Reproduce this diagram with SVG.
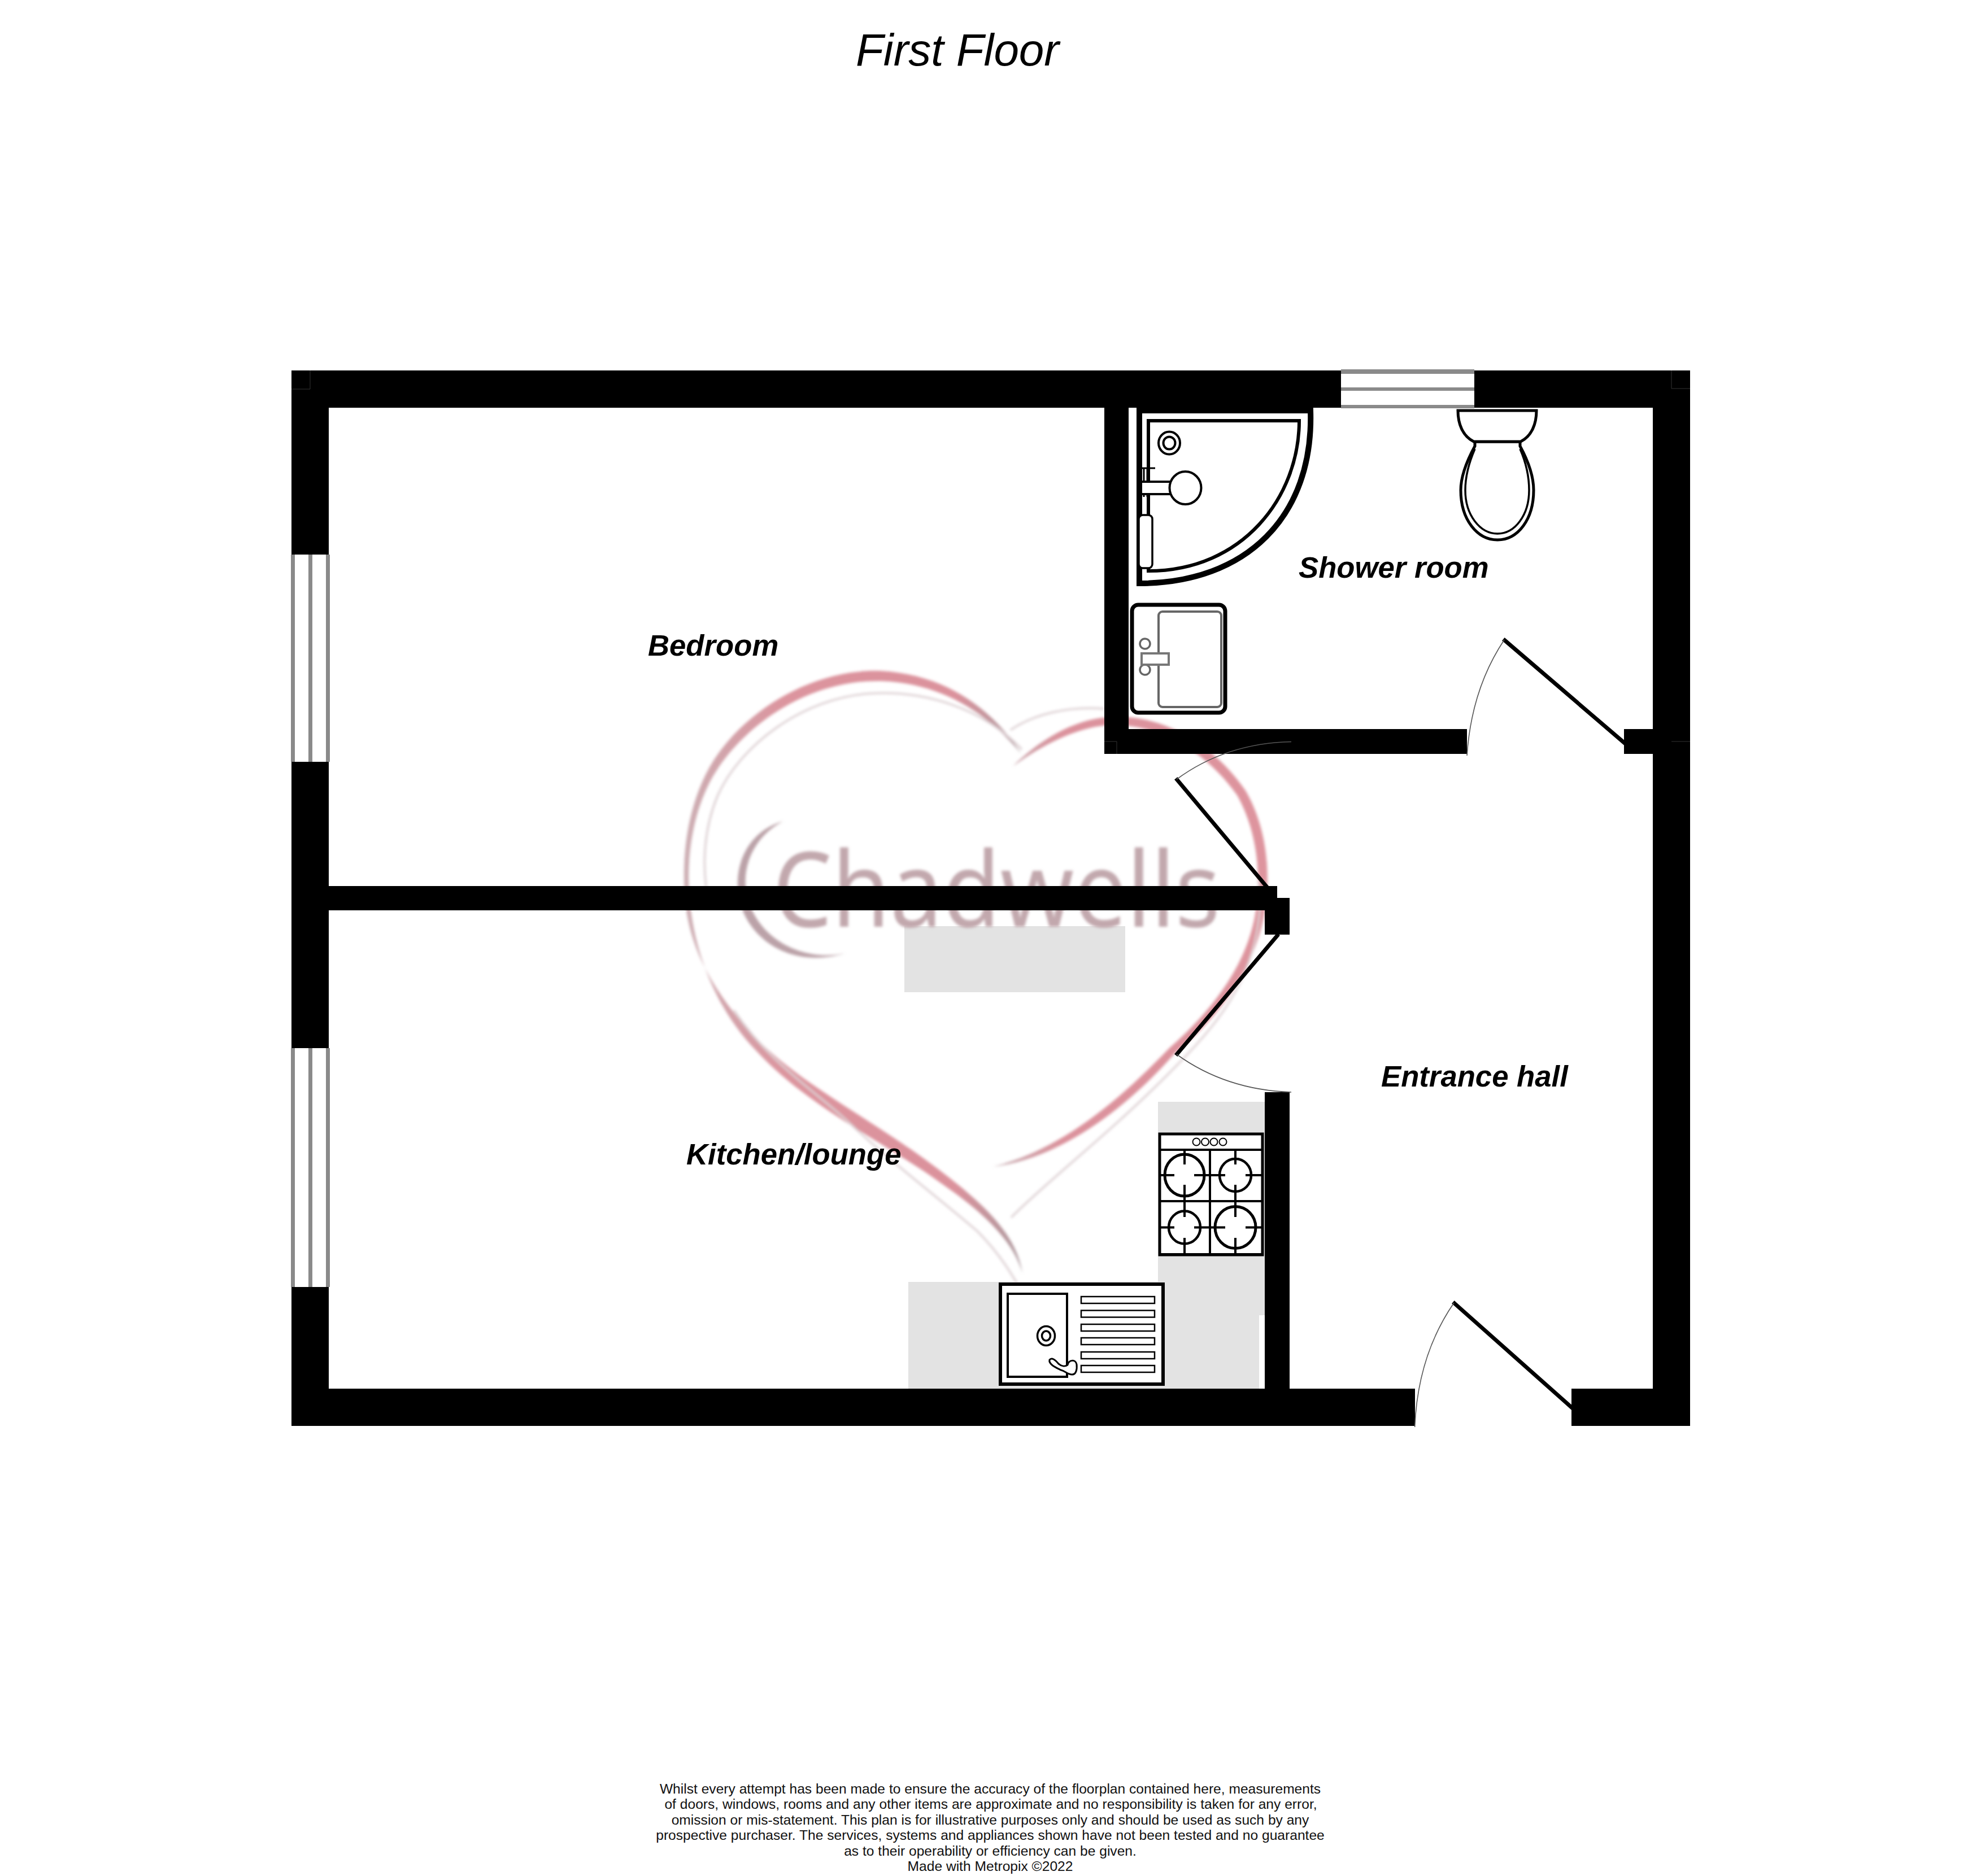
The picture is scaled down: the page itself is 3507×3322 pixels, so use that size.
<svg xmlns="http://www.w3.org/2000/svg" width="3507" height="3322" viewBox="0 0 3507 3322">
<style>
.wall{fill:#000}
.counter{fill:#e3e3e3}
.bar{fill:#8a8a8a}
.glass{fill:#fff}
.leaf{stroke:#000;stroke-width:7;fill:none;stroke-linecap:square}
.swing{stroke:#555;stroke-width:1.6;fill:none}
.seam{stroke:#333;stroke-width:1;fill:none}
.fx{fill:#fff;stroke:#000}
.fxn{fill:none;stroke:#000}
.room{font:italic bold 52.7px "Liberation Sans",Arial,sans-serif;fill:#000}
.title{font:italic 80px "Liberation Sans",Arial,sans-serif;fill:#000}
.foot{font:24.6px "Liberation Sans",Arial,sans-serif;fill:#111;text-anchor:middle}
.wm{font:185px "Noto Sans","Open Sans",sans-serif;fill:#c2a8ad}
.thin{fill:none;stroke:#ddd0d3;stroke-width:3.5;stroke-linecap:round}
</style>
<defs>
<filter id="soft" x="-5%" y="-5%" width="110%" height="110%"><feGaussianBlur stdDeviation="2.4"/></filter>
<linearGradient id="lobeL" x1="0" y1="0" x2="1" y2="0">
<stop offset="0" stop-color="#ccaeb3"/><stop offset=".3" stop-color="#dc949e"/><stop offset=".8" stop-color="#db929c"/><stop offset="1" stop-color="#ab999e"/>
</linearGradient>
<linearGradient id="lobeR" x1="0" y1="0" x2="1" y2="0">
<stop offset="0" stop-color="#c4abb0"/><stop offset=".25" stop-color="#db929c"/><stop offset="1" stop-color="#de949e"/>
</linearGradient>
</defs>
<rect width="3507" height="3322" fill="#fff"/>

<g id="worktops">
<rect class="counter" x="1601" y="1640" width="391" height="117"/>
<rect class="counter" x="2050" y="1951" width="189" height="378"/>
<rect class="counter" x="2050" y="2329" width="179" height="131"/>
<rect class="counter" x="1608" y="2270" width="442" height="190"/>
</g>

<g id="watermark" filter="url(#soft)">
<path fill="url(#lobeL)" d="M1808,1335C1760,1260 1680,1195 1560,1188C1430,1183 1300,1270 1250,1370C1215,1440 1208,1520 1212,1580C1216,1680 1270,1770 1350,1850C1440,1935 1560,1990 1680,2085C1750,2140 1800,2190 1810,2255C1795,2200 1745,2150 1670,2098C1570,2025 1430,1960 1340,1862C1265,1785 1226,1680 1220,1580C1216,1520 1225,1440 1262,1375C1315,1285 1430,1203 1560,1206C1670,1210 1750,1265 1808,1335Z"/>
<path fill="url(#lobeR)" d="M1793,1357C1840,1310 1900,1275 1960,1270C2060,1262 2150,1320 2205,1400C2240,1460 2252,1540 2238,1620C2220,1720 2150,1810 2080,1865C2010,1945 1890,2050 1758,2066C1880,2035 1980,1950 2070,1856C2140,1795 2205,1715 2222,1620C2235,1540 2222,1465 2190,1408C2135,1330 2050,1280 1960,1284C1900,1290 1845,1320 1793,1357Z"/>
<path class="thin" d="M1808,1326C1740,1255 1640,1222 1540,1228C1420,1236 1310,1320 1270,1410C1245,1470 1245,1530 1250,1570"/>
<path class="thin" d="M1300,1790C1360,1880 1440,1930 1500,1985C1580,2060 1660,2120 1730,2180C1770,2220 1795,2260 1822,2312"/>
<path class="thin" d="M1791,2155C1850,2095 1960,2010 2060,1910C2140,1830 2205,1760 2225,1650C2232,1610 2232,1590 2228,1560"/>
<path class="thin" d="M1790,1292C1830,1265 1890,1250 1955,1255"/>
<path fill="#bba2a8" d="M1387,1454C1330,1470 1304,1520 1306,1570C1308,1650 1390,1720 1496,1688C1420,1705 1330,1660 1320,1570C1316,1520 1345,1475 1387,1454Z"/>
<text class="wm" x="1368" y="1641" textLength="792" lengthAdjust="spacingAndGlyphs">Chadwells</text>
</g>

<g id="walls">
<rect class="wall" x="516" y="656" width="1858" height="66"/>
<rect class="wall" x="2610" y="656" width="382" height="66"/>
<rect class="wall" x="2926" y="656" width="66" height="1869"/>
<rect class="wall" x="516" y="656" width="66" height="326"/>
<rect class="wall" x="516" y="1349" width="66" height="507"/>
<rect class="wall" x="516" y="2279" width="66" height="246"/>
<rect class="wall" x="516" y="2459" width="1989" height="66"/>
<rect class="wall" x="2782" y="2459" width="210" height="66"/>
<rect class="wall" x="1955" y="722" width="43" height="613"/>
<rect class="wall" x="1955" y="1291" width="642" height="44"/>
<rect class="wall" x="2875" y="1291" width="51" height="44"/>
<rect class="wall" x="516" y="1569" width="1745" height="43"/>
<rect class="wall" x="2239" y="1590" width="44" height="65"/>
<rect class="wall" x="2239" y="1934" width="44" height="525"/>
<path class="seam" d="M516,689H549V656M2959,656V688H2992M2959,1313H2992M1955,1313H1977V1335"/>
</g>

<g id="windows">
<g id="window-top">
<rect class="glass" x="2374" y="656" width="236" height="66"/>
<rect class="bar" x="2374" y="654" width="236" height="8"/>
<rect class="bar" x="2374" y="686" width="236" height="6"/>
<rect class="bar" x="2374" y="717" width="236" height="6"/>
</g>
<g id="window-bedroom">
<rect class="bar" x="515" y="982" width="7" height="367"/>
<rect class="bar" x="546" y="982" width="7" height="367"/>
<rect class="bar" x="577" y="982" width="7" height="367"/>
</g>
<g id="window-kitchen">
<rect class="bar" x="515" y="1856" width="7" height="423"/>
<rect class="bar" x="546" y="1856" width="7" height="423"/>
<rect class="bar" x="577" y="1856" width="7" height="423"/>
</g>
</g>

<g id="doors">
<line class="leaf" x1="2664" y1="1134" x2="2875" y2="1315"/>
<path class="swing" d="M2663,1133Q2605,1220 2597,1338"/>
<line class="leaf" x1="2084" y1="1381" x2="2244" y2="1572"/>
<path class="swing" d="M2083,1380Q2170,1316 2286,1313.5"/>
<line class="leaf" x1="2261" y1="1657" x2="2084" y2="1866"/>
<path class="swing" d="M2083,1867Q2170,1930 2286,1934"/>
<line class="leaf" x1="2575" y1="2308" x2="2782" y2="2492"/>
<path class="swing" d="M2574,2307Q2510,2400 2504.6,2527"/>
</g>

<g id="shower">
<path class="fx" stroke-width="10" d="M2017,727H2320C2326,915 2206,1033 2017,1033Z"/>
<path class="fx" stroke-width="6" d="M2033,745H2300C2300,880 2200,1011 2033,1011Z"/>
<ellipse class="fxn" stroke-width="4" cx="2070" cy="784.5" rx="19" ry="20"/>
<ellipse class="fxn" stroke-width="4" cx="2070" cy="784.5" rx="10.5" ry="11"/>
<path class="fxn" stroke-width="3" d="M2020,829H2045M2025,829V880M2031,829V880"/>
<rect class="fx" stroke-width="4" x="2020" y="853" width="52" height="22"/>
<ellipse class="fx" stroke-width="4" cx="2098.5" cy="864" rx="28" ry="29"/>
<rect class="fx" stroke-width="3.5" x="2016" y="912" width="24" height="94" rx="7"/>
</g>

<g id="toilet">
<path class="fx" stroke-width="5" d="M2611,782V790C2592,825 2586,850 2586,868C2586,920 2615,956 2651,956C2687,956 2715,920 2715,868C2715,850 2710,825 2691,790V782Z"/>
<path class="fxn" stroke-width="3.5" d="M2611,795C2598,825 2594,850 2594,868C2594,912 2620,945 2651,945C2682,945 2707,912 2707,868C2707,850 2704,825 2691,795"/>
<path class="fx" stroke-width="5" d="M2581,727H2720C2720,750 2712,772 2692,782H2609C2589,772 2581,750 2581,727Z"/>
</g>

<g id="basin">
<rect class="fx" stroke-width="7" stroke="#111" x="2004" y="1071" width="165" height="191" rx="11"/>
<rect fill="#fff" stroke="#666" stroke-width="4" x="2051" y="1083" width="111" height="169" rx="7"/>
<circle fill="#fff" stroke="#666" stroke-width="3.5" cx="2027" cy="1140" r="9"/>
<circle fill="#fff" stroke="#666" stroke-width="3.5" cx="2027" cy="1186" r="9"/>
<rect fill="#fff" stroke="#777" stroke-width="4" x="2021" y="1157" width="48" height="20"/>
</g>

<g id="hob">
<rect class="fx" stroke-width="5" x="2053" y="2008" width="182" height="214"/>
<path class="fxn" stroke-width="4" d="M2053,2036H2235M2142,2036V2222M2053,2127H2235"/>
<rect x="2053" y="2219" width="182" height="4"/>
<g fill="#fff" stroke="#000" stroke-width="2">
<circle cx="2118" cy="2022" r="6.5"/><circle cx="2133.5" cy="2022" r="6.5"/><circle cx="2149" cy="2022" r="6.5"/><circle cx="2165" cy="2022" r="6.5"/>
</g>
<g fill="none" stroke="#000">
<ellipse stroke-width="5" cx="2097" cy="2081" rx="35" ry="37"/>
<ellipse stroke-width="4.5" cx="2187" cy="2081" rx="28" ry="29"/>
<ellipse stroke-width="4.5" cx="2097" cy="2173.5" rx="28" ry="29"/>
<ellipse stroke-width="5" cx="2187" cy="2173.5" rx="36" ry="37"/>
<path stroke-width="4" d="M2053,2081H2079M2114,2081H2169M2205,2081H2235M2097,2036V2062M2097,2098V2127M2187,2036V2062M2187,2098V2127M2053,2173.5H2079M2114,2173.5H2169M2205,2173.5H2235M2097,2127V2155M2097,2192V2222M2187,2127V2155M2187,2192V2222"/>
</g>
</g>

<g id="sink">
<rect class="fx" stroke-width="6" x="1771" y="2274" width="288" height="177"/>
<rect class="fxn" stroke-width="4" x="1784" y="2291" width="105" height="147"/>
<ellipse class="fxn" stroke-width="3.5" cx="1852" cy="2365.5" rx="15.5" ry="17"/>
<ellipse class="fxn" stroke-width="3.5" cx="1852" cy="2365.5" rx="7.5" ry="8.5"/>
<g fill="none" stroke="#000" stroke-width="2.5">
<rect x="1914" y="2296" width="130" height="12"/>
<rect x="1914" y="2320.5" width="130" height="12"/>
<rect x="1914" y="2345" width="130" height="12"/>
<rect x="1914" y="2369" width="130" height="12"/>
<rect x="1914" y="2394" width="130" height="12"/>
<rect x="1914" y="2418" width="130" height="12"/>
</g>
<path class="fx" stroke-width="3" d="M1858,2408C1862,2403 1868,2408 1874,2415C1880,2420 1886,2420 1890,2417C1892,2408 1904,2406 1906,2416C1907,2425 1905,2434 1898,2434C1890,2434 1886,2428 1878,2426C1870,2422 1856,2416 1858,2408Z"/>
</g>

<g id="labels">
<text class="title" x="1695" y="116" text-anchor="middle">First Floor</text>
<text class="room" x="1147" y="1161">Bedroom</text>
<text class="room" x="2299" y="1023">Shower room</text>
<text class="room" x="2445" y="1924">Entrance hall</text>
<text class="room" x="1215" y="2062">Kitchen/lounge</text>
</g>

<g id="disclaimer">
<text class="foot" x="1753" y="3176">Whilst every attempt has been made to ensure the accuracy of the floorplan contained here, measurements</text>
<text class="foot" x="1754" y="3203">of doors, windows, rooms and any other items are approximate and no responsibility is taken for any error,</text>
<text class="foot" x="1753" y="3231">omission or mis-statement. This plan is for illustrative purposes only and should be used as such by any</text>
<text class="foot" x="1753" y="3258">prospective purchaser. The services, systems and appliances shown have not been tested and no guarantee</text>
<text class="foot" x="1753" y="3286">as to their operability or efficiency can be given.</text>
<text class="foot" x="1753" y="3313">Made with Metropix ©2022</text>
</g>
</svg>
